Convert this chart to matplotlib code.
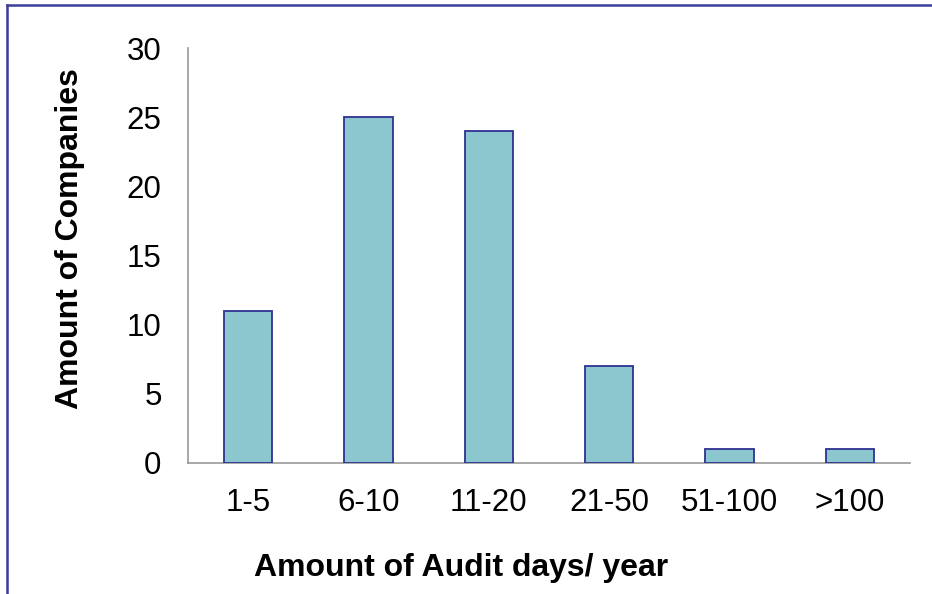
import matplotlib
matplotlib.use('Agg')
import matplotlib.pyplot as plt
from matplotlib.lines import Line2D

categories = ['1-5', '6-10', '11-20', '21-50', '51-100', '>100']
companies = [11, 25, 24, 7, 1, 1]

plt.rcParams['font.family'] = ['Liberation Sans', 'DejaVu Sans']

fig = plt.figure(figsize=(9.32, 5.94), dpi=100)
ax = fig.add_axes([188 / 932, 1 - 463 / 594, (910 - 188) / 932, (463 - 48) / 594])

x = range(len(categories))
ax.bar(x, companies, width=0.4, color='#8cc7cf', edgecolor='#2e3192', linewidth=1.3, zorder=3)

ax.set_xlim(-0.5, len(categories) - 0.5)
ax.set_ylim(0, 30)
ax.set_yticks(range(0, 31, 5))
ax.set_xticks(list(x))
ax.set_xticklabels(categories)
ax.tick_params(axis='both', length=0, labelsize=22.5)
ax.tick_params(axis='x', pad=18)
ax.tick_params(axis='y', pad=19)

for side in ('top', 'right'):
    ax.spines[side].set_visible(False)
for side in ('left', 'bottom'):
    ax.spines[side].set_color('#999999')
    ax.spines[side].set_linewidth(1.2)

ax.set_xlabel('Amount of Audit days/ year', fontsize=23, fontweight='bold')
ax.set_ylabel('Amount of Companies', fontsize=23, fontweight='bold')
ax.xaxis.set_label_coords(0.378, -0.218)
ax.yaxis.set_label_coords(-0.143, 0.542)

# frame lines along the left and top edges
fig.add_artist(Line2D([7 / 932, 7 / 932], [0, 1 - 5 / 594], transform=fig.transFigure,
                      color='#3a3d9a', linewidth=1.8))
fig.add_artist(Line2D([7 / 932, 1], [1 - 5 / 594, 1 - 5 / 594], transform=fig.transFigure,
                      color='#3a3d9a', linewidth=1.8))

fig.savefig('out.png', dpi=100)
